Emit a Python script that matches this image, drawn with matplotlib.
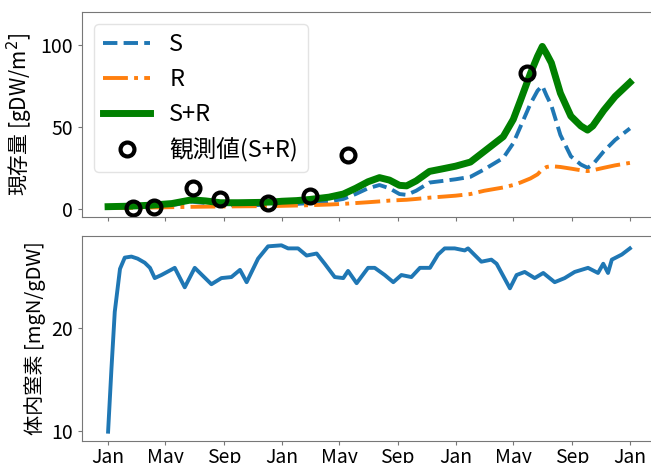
import matplotlib
matplotlib.use("Agg")
import matplotlib.pyplot as plt
import matplotlib.dates as mdates
from matplotlib.ticker import MultipleLocator
import pandas as pd

plt.rcParams["font.family"] = ["Noto Sans CJK JP", "DejaVu Sans"]
plt.rcParams["font.size"] = 14

# Standing stock of shoots (S) and roots (R), gDW/m2
stock_dates = [
    "2018-01-01", "2018-02-15", "2018-04-01", "2018-05-15", "2018-06-26",
    "2018-07-25", "2018-08-25", "2018-10-01", "2018-11-15", "2018-12-15",
    "2019-01-01", "2019-02-01", "2019-03-01", "2019-04-10", "2019-05-10",
    "2019-06-05", "2019-07-01", "2019-07-25", "2019-08-15", "2019-09-05",
    "2019-09-20", "2019-10-10", "2019-11-07", "2019-12-05", "2020-01-01",
    "2020-02-01", "2020-03-01", "2020-04-10", "2020-05-01", "2020-05-16",
    "2020-06-06", "2020-06-21", "2020-07-01", "2020-07-10", "2020-07-20",
    "2020-08-08", "2020-08-30", "2020-09-20", "2020-10-04", "2020-10-15",
    "2020-11-07", "2020-12-01", "2021-01-01",
]
shoot = [
    0.8, 1.0, 1.4, 2.2, 4.3,
    3.5, 2.3, 2.2, 2.3, 2.5,
    2.8, 3.0, 3.5, 4.5, 6.0,
    9.0, 12.5, 14.5, 12.5, 9.0,
    8.5, 11.0, 16.0, 17.0, 18.0,
    19.5, 24.0, 31.0, 40.0, 50.0,
    64.0, 72.0, 75.0, 69.0, 63.0,
    45.0, 32.0, 27.0, 25.0, 27.0,
    35.0, 42.0, 49.0,
]
root = [
    0.5, 0.6, 0.8, 1.0, 1.2,
    1.3, 1.4, 1.5, 1.6, 1.7,
    1.8, 2.0, 2.2, 2.6, 3.0,
    3.5, 4.0, 4.5, 5.0, 5.3,
    5.5, 6.0, 6.8, 7.4, 8.0,
    9.0, 11.0, 13.0, 14.5, 16.0,
    18.5, 21.0, 24.0, 25.5, 26.0,
    25.5, 24.5, 23.5, 23.0, 23.5,
    25.0, 26.5, 28.0,
]
total = [s + r for s, r in zip(shoot, root)]

# Field observations of S+R
obs_dates = ["2018-02-22", "2018-04-07", "2018-06-28", "2018-08-24",
             "2018-12-03", "2019-03-01", "2019-05-20", "2020-05-29"]
obs_values = [0.6, 1.2, 12.8, 6.0, 3.7, 8.0, 33.0, 82.5]

# Tissue nitrogen content, mgN/gDW
n_dates = [
    "2018-01-01", "2018-01-08", "2018-01-15", "2018-01-26", "2018-02-05",
    "2018-02-19", "2018-03-04", "2018-03-19", "2018-03-30", "2018-04-09",
    "2018-04-23", "2018-05-21", "2018-06-11", "2018-07-02", "2018-08-06",
    "2018-08-27", "2018-09-17", "2018-10-05", "2018-10-19", "2018-11-12",
    "2018-12-03", "2018-12-31", "2019-01-14", "2019-02-04", "2019-02-22",
    "2019-03-15", "2019-04-01", "2019-04-22", "2019-05-10", "2019-05-20",
    "2019-06-07", "2019-07-01", "2019-07-15", "2019-08-05", "2019-08-23",
    "2019-09-09", "2019-09-30", "2019-10-18", "2019-11-08", "2019-11-25",
    "2019-12-09", "2019-12-30", "2020-01-20", "2020-01-27", "2020-02-24",
    "2020-03-16", "2020-03-27", "2020-04-24", "2020-05-08", "2020-05-25",
    "2020-06-15", "2020-07-03", "2020-07-27", "2020-08-17", "2020-09-07",
    "2020-10-05", "2020-10-26", "2020-11-06", "2020-11-16", "2020-11-24",
    "2020-12-15", "2021-01-01",
]
n_content = [
    9.9, 16.0, 21.6, 25.8, 26.9,
    27.0, 26.8, 26.4, 25.9, 24.9,
    25.2, 25.9, 24.0, 25.9, 24.3,
    24.9, 25.0, 25.7, 24.5, 26.8,
    28.0, 28.1, 27.8, 27.8, 27.1,
    27.3, 26.3, 25.0, 24.9, 25.6,
    24.4, 25.9, 25.9, 25.2, 24.5,
    25.2, 25.0, 25.9, 25.9, 27.2,
    27.8, 27.8, 27.6, 27.8, 26.5,
    26.7, 26.3, 23.9, 25.2, 25.5,
    24.9, 25.4, 24.5, 24.9, 25.5,
    25.9, 25.4, 26.3, 25.4, 26.7,
    27.2, 27.8,
]

sd = pd.to_datetime(stock_dates)
od = pd.to_datetime(obs_dates)
nd = pd.to_datetime(n_dates)

W, H = 651, 463
fig = plt.figure(figsize=(W / 100, H / 100), dpi=100)
left, right = 82, 656
ax1 = fig.add_axes([left / W, 1 - 217 / H, (right - left) / W, 205 / H])
ax2 = fig.add_axes([left / W, 1 - 441 / H, (right - left) / W, 205 / H], sharex=ax1)

ax1.plot(sd, shoot, "--", color="#1f77b4", lw=2.8, label="S")
ax1.plot(sd, root, "-.", color="#ff7f0e", lw=2.8, label="R")
ax1.plot(sd, total, "-", color="green", lw=5, label="S+R")
ax1.plot(od, obs_values, "o", mfc="none", mec="black", mew=3, ms=10,
         label="観測値(S+R)")
ax1.set_ylim(-5, 120)
ax1.set_yticks([0, 50, 100])
ax1.set_ylabel("現存量 [gDW/m$^2$]", fontsize=15)
ax1.legend(loc="upper left", fontsize=17, borderpad=0.4,
           framealpha=0.8, edgecolor="#dddddd")
ax1.tick_params(labelbottom=False)

ax2.plot(nd, n_content, "-", color="#1f77b4", lw=2.8)
ax2.set_ylabel("体内窒素 [mgN/gDW]", fontsize=14.5)
ax2.yaxis.set_major_locator(MultipleLocator(10))

ax2.xaxis.set_major_locator(mdates.MonthLocator(bymonth=[1, 5, 9]))
ax2.xaxis.set_major_formatter(mdates.DateFormatter("%b"))

for ax in (ax1, ax2):
    for sp in ax.spines.values():
        sp.set_color("#777777")
    ax.tick_params(color="#777777", length=3)
ax2.tick_params(axis="x", pad=1)

fig.align_ylabels([ax1, ax2])
fig.savefig("out.png", dpi=100)
